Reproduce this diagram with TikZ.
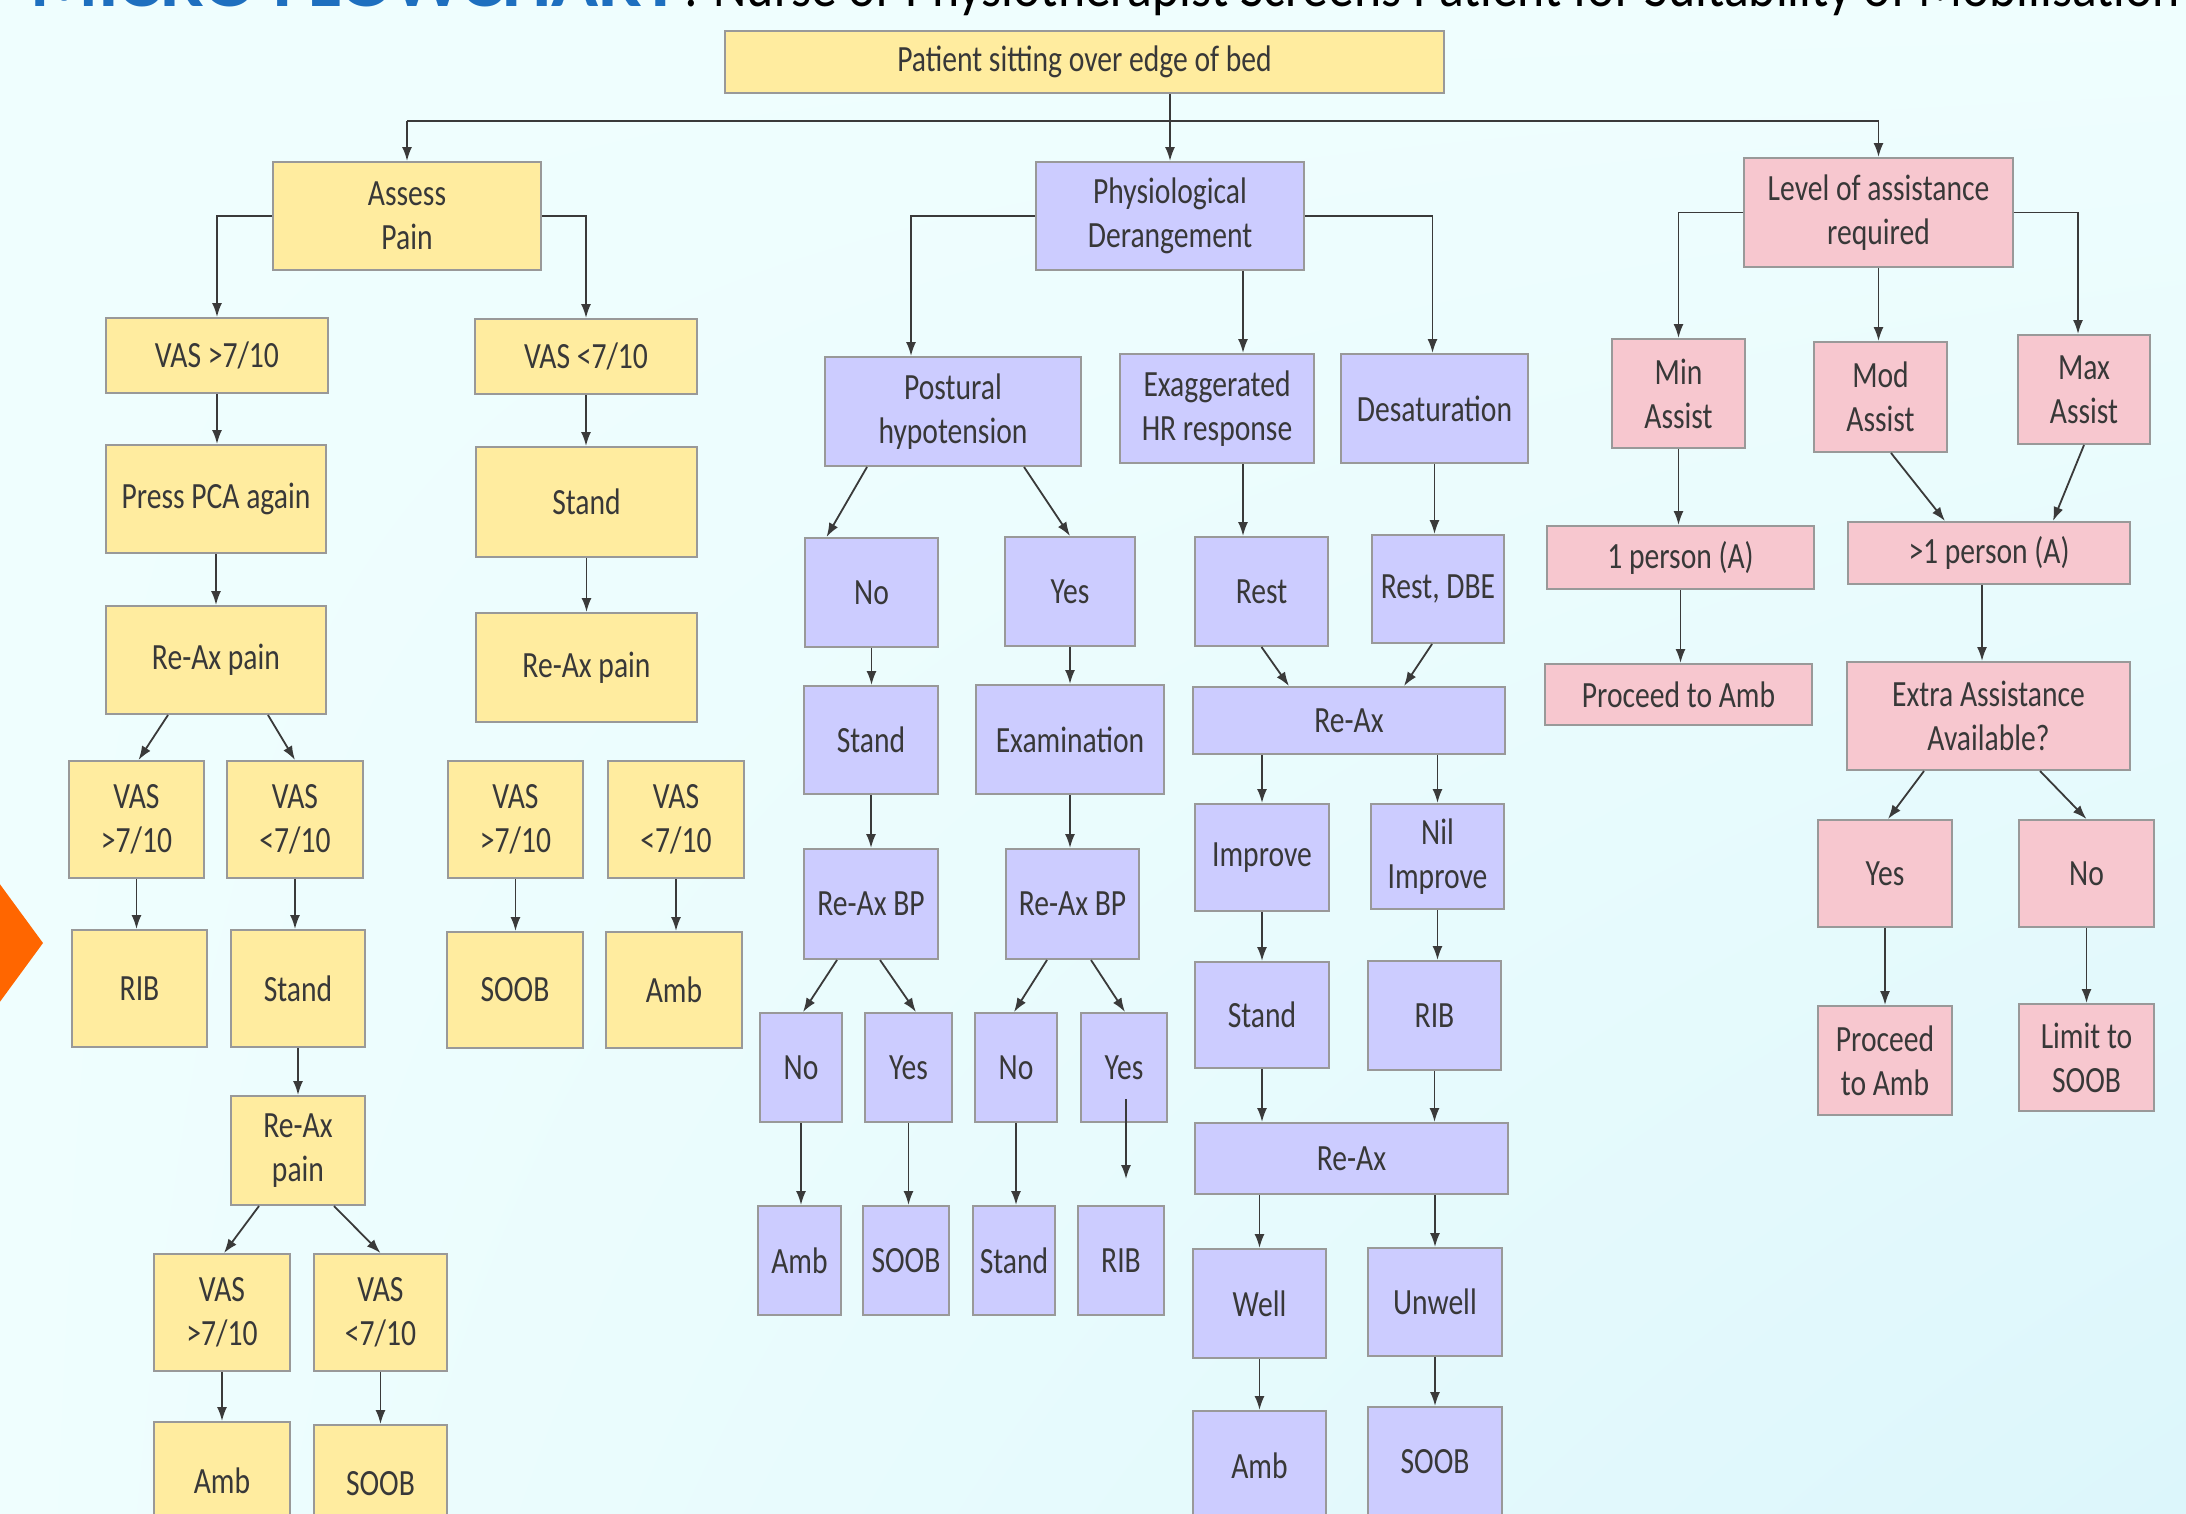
\documentclass[tikz,border=0pt]{standalone}
\usepackage{fontspec}
\setmainfont{Carlito}[FakeStretch=0.8]
\usetikzlibrary{arrows.meta,shadings}
\definecolor{bgc}{HTML}{EFFEFE}
\definecolor{bgd}{HTML}{DCF6FB}
\definecolor{ylw}{HTML}{FFEC9F}
\definecolor{prp}{HTML}{CCCCFF}
\definecolor{pnk}{HTML}{F7C7CF}
\definecolor{bordc}{HTML}{999999}
\definecolor{txtc}{HTML}{383838}
\definecolor{linec}{HTML}{3A3A3A}
\definecolor{ttlblue}{HTML}{1E6FBF}
\definecolor{orng}{HTML}{FF6600}
\begin{document}
\begin{tikzpicture}[x=1pt,y=-1pt,
  box/.style={draw=bordc, line width=2pt, align=center, inner sep=0pt, text=txtc, font=\fontsize{37}{44}\selectfont},
  yb/.style={box, fill=ylw}, pb/.style={box, fill=prp}, kb/.style={box, fill=pnk},
  sz/.style 2 args={minimum width=#1pt, minimum height=#2pt},
  ln/.style={draw=linec, line width=1.8pt},
  arr/.style={ln, -{Latex[length=14pt,width=10pt]}}]
\useasboundingbox (0,0) rectangle (2186,1513);
\shade[upper left=bgc, upper right=bgc, lower left=bgc, lower right=bgd] (0,0) rectangle (2186,1513);
% title (cropped at the top)
\node[anchor=base west, inner sep=0pt, text=ttlblue] (t1) at (30,6) {\resizebox{650pt}{46pt}{\bfseries MICRO FLOWCHART}};
\node[anchor=base west, inner sep=0pt, text=black] (t2) at (684,6) {\resizebox{1496pt}{40pt}{: Nurse or Physiotherapist Screens Patient for Suitability of Mobilisation}};
% orange marker
\fill[orng] (-20,857) -- (43,943) -- (-20,1029) -- cycle;

% ---------- yellow ----------
\node[yb, sz={719}{62}] (top) at (1084.5,62) {Patient sitting over edge of bed};
\node[yb, sz={268}{108}] (ap) at (407,216) {Assess\\Pain};
\node[yb, sz={222}{75}] (v1) at (217,355.5) {VAS >7/10};
\node[yb, sz={222}{75}] (v2) at (586,356.5) {VAS <7/10};
\node[yb, sz={220}{108}] (pca) at (216,499) {Press PCA again};
\node[yb, sz={221}{110}] (st1) at (586.5,502) {Stand};
\node[yb, sz={220}{108}] (rp1) at (216,660) {Re-Ax pain};
\node[yb, sz={221}{109}] (rp2) at (586.5,667.5) {Re-Ax pain};
\node[yb, sz={135}{117}] (va) at (136.5,819.5) {VAS\\>7/10};
\node[yb, sz={136}{117}] (vb) at (295,819.5) {VAS\\<7/10};
\node[yb, sz={135}{117}] (vc) at (515.5,819.5) {VAS\\>7/10};
\node[yb, sz={136}{117}] (vd) at (676,819.5) {VAS\\<7/10};
\node[yb, sz={135}{117}] (rib1) at (139.5,988.5) {RIB};
\node[yb, sz={134}{117}] (st2) at (298,988.5) {Stand};
\node[yb, sz={136}{116}] (soob1) at (515,990) {SOOB};
\node[yb, sz={136}{116}] (amb1) at (674,990) {Amb};
\node[yb, sz={134}{109}] (rp3) at (298,1150.5) {Re-Ax\\pain};
\node[yb, sz={136}{117}] (ve) at (222,1312.5) {VAS\\>7/10};
\node[yb, sz={133}{117}] (vf) at (380.5,1312.5) {VAS\\<7/10};
\node[yb, sz={136}{118}] (amb2) at (222,1481) {Amb};
\node[yb, sz={133}{118}] (soob2) at (380.5,1484) {SOOB};

% ---------- purple ----------
\node[pb, sz={268}{108}] (pd) at (1170,216) {Physiological\\Derangement};
\node[pb, sz={256}{109}] (ph) at (953,411.5) {Postural\\hypotension};
\node[pb, sz={194}{109}] (ex) at (1217,408.5) {Exaggerated\\HR response};
\node[pb, sz={187}{109}] (ds) at (1434.5,408.5) {Desaturation};
\node[pb, sz={133}{109}] (no1) at (871.5,592.5) {No};
\node[pb, sz={130}{109}] (ye1) at (1070,591.5) {Yes};
\node[pb, sz={133}{109}] (rest) at (1261.5,591.5) {Rest};
\node[pb, sz={132}{108}] (rdbe) at (1438,589) {Rest, DBE};
\node[pb, sz={134}{108}] (st3) at (871,740) {Stand};
\node[pb, sz={188}{109}] (exam) at (1070,739.5) {Examination};
\node[pb, sz={312}{67}] (rx1) at (1349,720.5) {Re-Ax};
\node[pb, sz={134}{110}] (bp1) at (871,904) {Re-Ax BP};
\node[pb, sz={133}{110}] (bp2) at (1072.5,904) {Re-Ax BP};
\node[pb, sz={134}{107}] (imp) at (1262,857.5) {Improve};
\node[pb, sz={133}{105}] (nimp) at (1437.5,856.5) {Nil\\Improve};
\node[pb, sz={134}{106}] (st4) at (1262,1015) {Stand};
\node[pb, sz={133}{109}] (rib2) at (1434.5,1015.5) {RIB};
\node[pb, sz={82}{109}] (n1) at (801,1067.5) {No};
\node[pb, sz={87}{109}] (y1) at (908.5,1067.5) {Yes};
\node[pb, sz={82}{109}] (n2) at (1016,1067.5) {No};
\node[pb, sz={86}{109}] (y2) at (1124,1067.5) {Yes};
\node[pb, sz={83}{109}] (amb3) at (799.5,1260.5) {Amb};
\node[pb, sz={86}{109}] (soob3) at (906,1260.5) {SOOB};
\node[pb, sz={82}{109}] (st5) at (1014,1260.5) {Stand};
\node[pb, sz={86}{109}] (rib3) at (1121,1260.5) {RIB};
\node[pb, sz={313}{71}] (rx2) at (1351.5,1158.5) {Re-Ax};
\node[pb, sz={133}{109}] (well) at (1259.5,1303.5) {Well};
\node[pb, sz={134}{108}] (unw) at (1435,1302) {Unwell};
\node[pb, sz={133}{109}] (amb4) at (1259.5,1465.5) {Amb};
\node[pb, sz={134}{109}] (soob4) at (1435,1461.5) {SOOB};

% ---------- pink ----------
\node[kb, sz={269}{109}] (lv) at (1878.5,212.5) {Level of assistance\\required};
\node[kb, sz={133}{109}] (min) at (1678.5,393.5) {Min\\Assist};
\node[kb, sz={133}{110}] (mod) at (1880.5,397) {Mod\\Assist};
\node[kb, sz={132}{109}] (max) at (2084,389.5) {Max\\Assist};
\node[kb, sz={267}{63}] (p1) at (1680.5,557.5) {1 person (A)};
\node[kb, sz={282}{62}] (p2) at (1989,553) {>1 person (A)};
\node[kb, sz={267}{61}] (pa) at (1678.5,694.5) {Proceed to Amb};
\node[kb, sz={283}{108}] (ea) at (1988.5,716) {Extra Assistance\\Available?};
\node[kb, sz={134}{107}] (yes) at (1885,873.5) {Yes};
\node[kb, sz={135}{107}] (no) at (2086.5,873.5) {No};
\node[kb, sz={134}{109}] (pa2) at (1885,1060.5) {Proceed\\to Amb};
\node[kb, sz={135}{107}] (lim) at (2086.5,1057.5) {Limit to\\SOOB};

% ---------- connectors ----------
\coordinate (bus) at (1170,121);
\draw[ln] (ap.north |- bus) -- (lv.north |- bus);
\draw[arr] (ap.north |- bus) -- (ap.north);
\draw[arr] (lv.north |- bus) -- (lv.north);
\draw[arr] (pd.north |- top.south) -- (pd.north);

% yellow
\draw[arr] (ap.west) -| (v1.north);
\draw[arr] (ap.east) -| (v2.north);
\draw[arr] (v1.south) -- (v1.south |- pca.north);
\draw[arr] (pca.south) -- (pca.south |- rp1.north);
\draw[arr] (v2.south) -- (v2.south |- st1.north);
\draw[arr] (st1.south) -- (st1.south |- rp2.north);
\draw[arr] ([xshift=-48pt]rp1.south) -- ([xshift=2pt]va.north);
\draw[arr] ([xshift=52pt]rp1.south) -- (vb.north);
\draw[arr] (va.south) -- (va.south |- rib1.north);
\draw[arr] (vb.south) -- (vb.south |- st2.north);
\draw[arr] (vc.south) -- (vc.south |- soob1.north);
\draw[arr] (vd.south) -- (vd.south |- amb1.north);
\draw[arr] (st2.south) -- (st2.south |- rp3.north);
\draw[arr] ([xshift=-39pt]rp3.south) -- ([xshift=2pt]ve.north);
\draw[arr] ([xshift=36pt]rp3.south) -- (vf.north);
\draw[arr] (ve.south) -- (ve.south |- amb2.north);
\draw[arr] (vf.south) -- (vf.south |- soob2.north);

% purple
\draw[arr] (pd.west) -| ([xshift=-42pt]ph.north);
\draw[arr] (pd.east) -| ([xshift=-2pt]ds.north);
\draw[arr] ([xshift=73pt]pd.south) -- ([xshift=73pt]pd.south |- ex.north);
\draw[arr] ([xshift=-86pt]ph.south) -- ([xshift=-45pt]no1.north);
\draw[arr] ([xshift=71pt]ph.south) -- (ye1.north);
\draw[arr] ([xshift=26pt]ex.south) -- ([xshift=26pt]ex.south |- rest.north);
\draw[arr] (ds.south) -- (ds.south |- rdbe.north);
\draw[arr] (no1.south) -- (no1.south |- st3.north);
\draw[arr] (ye1.south) -- (ye1.south |- exam.north);
\draw[arr] (rest.south) -- ([xshift=-60pt]rx1.north);
\draw[arr] ([xshift=-6pt]rdbe.south) -- ([xshift=55pt]rx1.north);
\draw[arr] (st3.south) -- (st3.south |- bp1.north);
\draw[arr] (exam.south) -- (exam.south |- bp2.north);
\draw[arr] (imp.north |- rx1.south) -- (imp.north);
\draw[arr] (nimp.north |- rx1.south) -- (nimp.north);
\draw[arr] (imp.south) -- (imp.south |- st4.north);
\draw[arr] (nimp.south) -- (nimp.south |- rib2.north);
\draw[arr] (st4.south) -- (st4.south |- rx2.north);
\draw[arr] (rib2.south) -- (rib2.south |- rx2.north);
\draw[arr] (well.north |- rx2.south) -- (well.north);
\draw[arr] (unw.north |- rx2.south) -- (unw.north);
\draw[arr] (well.south) -- (well.south |- amb4.north);
\draw[arr] (unw.south) -- (unw.south |- soob4.north);
\draw[arr] ([xshift=-34pt]bp1.south) -- ([xshift=2pt]n1.north);
\draw[arr] ([xshift=9pt]bp1.south) -- ([xshift=7.5pt]y1.north);
\draw[arr] ([xshift=-25.5pt]bp2.south) -- ([xshift=-2pt]n2.north);
\draw[arr] ([xshift=18.5pt]bp2.south) -- ([xshift=1pt]y2.north);
\draw[arr] (n1.south) -- (n1.south |- amb3.north);
\draw[arr] (y1.south) -- (y1.south |- soob3.north);
\draw[arr] (n2.south) -- (n2.south |- st5.north);
\draw[arr] ([xshift=2pt,yshift=24pt]y2.south) -- ([xshift=2pt,yshift=26pt]y2.south |- rib3.north);

% pink
\draw[arr] (lv.west) -| (min.north);
\draw[arr] (lv.east) -| ([xshift=-6pt]max.north);
\draw[arr] (lv.south) -- (lv.south |- mod.north);
\draw[arr] (min.south) -- (min.south |- p1.north);
\draw[arr] ([xshift=10.5pt]mod.south) -- ([xshift=-44pt]p2.north);
\draw[arr] (max.south) -- ([xshift=64pt]p2.north);
\draw[arr] (p1.south) -- (p1.south |- pa.north);
\draw[arr] ([xshift=-7pt]p2.south) -- ([xshift=-7pt]p2.south |- ea.north);
\draw[arr] ([xshift=-64.5pt]ea.south) -- ([xshift=3pt]yes.north);
\draw[arr] ([xshift=51.5pt]ea.south) -- (no.north);
\draw[arr] (yes.south) -- (yes.south |- pa2.north);
\draw[arr] (no.south) -- (no.south |- lim.north);
\end{tikzpicture}
\end{document}
